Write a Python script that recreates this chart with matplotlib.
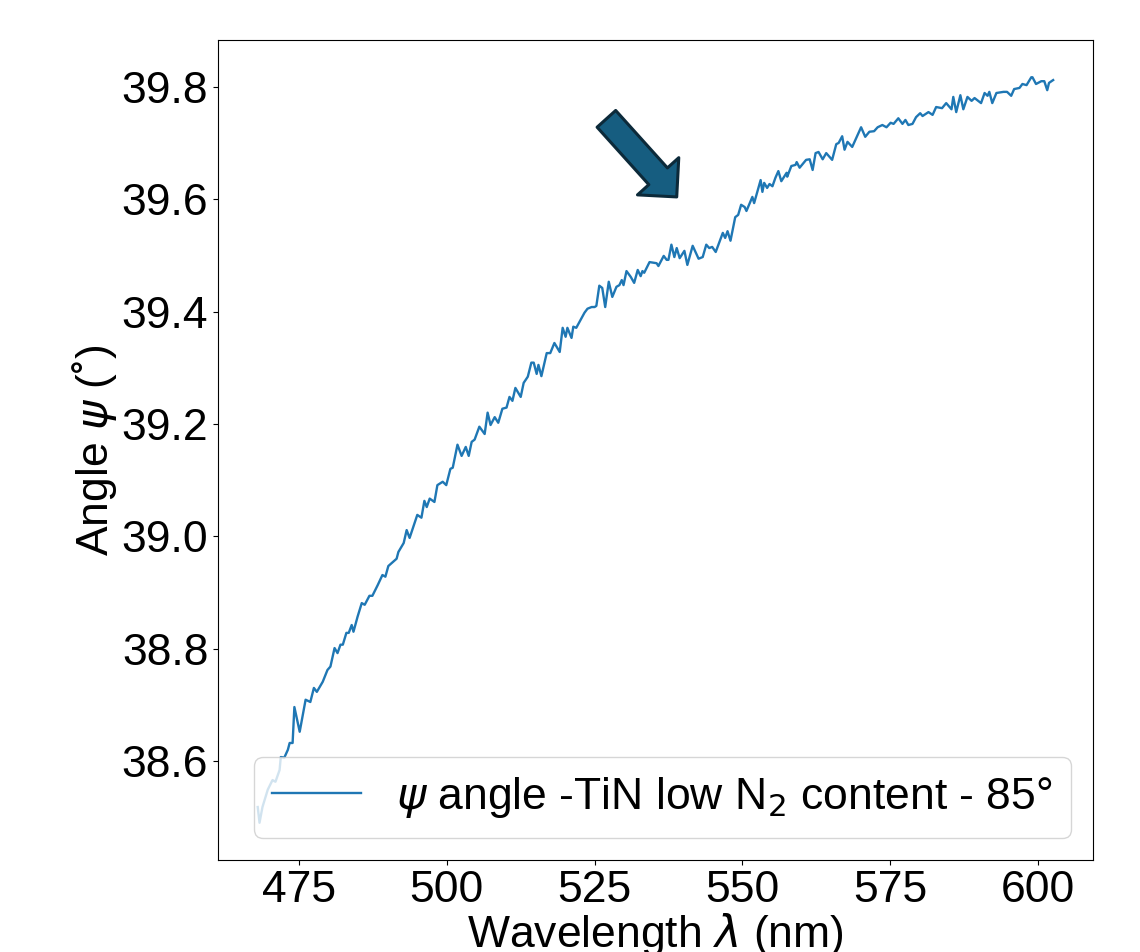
import matplotlib
matplotlib.use("Agg")
import matplotlib.pyplot as plt

plt.rcParams['font.family'] = ['Liberation Sans', 'DejaVu Sans']
plt.rcParams['mathtext.fontset'] = 'dejavusans'

wavelength = [
    468.0, 468.3, 468.8, 469.7, 470.5, 471.0, 471.7, 471.9, 472.5, 473.1,
    473.4, 473.9, 474.2, 475.1, 476.1, 476.9, 477.5, 478.0, 479.0, 479.8,
    480.3, 481.0, 481.5, 482.0, 482.4, 483.0, 483.4, 483.9, 484.2, 484.9,
    485.6, 486.1, 486.9, 487.4, 488.3, 489.1, 489.6, 490.1, 491.5, 491.8,
    492.7, 493.2, 493.7, 495.0, 495.7, 496.2, 496.6, 497.1, 497.9, 498.4,
    499.3, 499.9, 500.6, 501.0, 501.8, 502.5, 503.2, 503.7, 504.2, 504.7,
    505.5, 506.4, 506.9, 507.4, 508.1, 508.7, 509.4, 510.1, 510.6, 511.1,
    511.6, 512.5, 513.0, 513.7, 514.3, 514.7, 515.2, 515.5, 516.0, 516.9,
    517.5, 518.2, 519.1, 519.6, 520.1, 520.4, 521.1, 521.4, 521.9, 523.3,
    523.8, 524.5, 525.0, 525.3, 525.8, 526.3, 526.8, 527.4, 528.0, 528.7,
    529.2, 529.6, 529.9, 530.4, 531.1, 531.7, 532.3, 532.8, 533.1, 533.4,
    534.3, 535.5, 535.8, 536.7, 537.2, 537.5, 538.0, 538.5, 538.9, 539.4,
    540.2, 540.7, 541.6, 542.6, 543.3, 543.9, 544.4, 544.9, 545.5, 546.7,
    547.1, 547.5, 548.0, 548.8, 549.3, 549.8, 550.4, 550.7, 551.7, 552.0,
    553.1, 553.4, 553.7, 554.2, 554.6, 555.1, 555.6, 556.1, 556.6, 557.5,
    557.6, 558.3, 559.0, 559.2, 559.7, 560.5, 560.8, 561.4, 561.9, 562.4,
    562.9, 563.6, 564.2, 565.2, 565.9, 566.3, 566.9, 567.3, 567.8, 568.6,
    570.1, 570.8, 571.5, 572.3, 572.9, 573.7, 574.4, 575.1, 575.6, 576.4,
    577.1, 577.6, 578.1, 578.8, 579.4, 580.1, 580.5, 581.5, 582.2, 582.8,
    583.8, 584.5, 585.4, 585.7, 586.2, 586.9, 587.4, 588.1, 588.8, 589.3,
    590.4, 591.0, 591.5, 591.8, 592.3, 593.0, 594.2, 594.8, 595.5, 596.0,
    596.9, 597.4, 598.1, 598.9, 599.1, 599.7, 600.6, 601.1, 601.6, 601.9,
    602.6,
]

psi = [
    38.518, 38.490, 38.518, 38.549, 38.566, 38.563, 38.584, 38.607, 38.606, 38.620,
    38.632, 38.632, 38.696, 38.652, 38.709, 38.705, 38.730, 38.723, 38.741, 38.762,
    38.768, 38.801, 38.792, 38.807, 38.807, 38.828, 38.828, 38.842, 38.830, 38.857,
    38.881, 38.878, 38.894, 38.894, 38.913, 38.931, 38.928, 38.947, 38.960, 38.972,
    38.988, 39.011, 38.997, 39.038, 39.033, 39.063, 39.052, 39.067, 39.061, 39.091,
    39.097, 39.091, 39.120, 39.122, 39.163, 39.143, 39.159, 39.143, 39.168, 39.172,
    39.195, 39.182, 39.220, 39.198, 39.212, 39.202, 39.227, 39.229, 39.248, 39.241,
    39.264, 39.248, 39.273, 39.284, 39.309, 39.309, 39.289, 39.305, 39.285, 39.326,
    39.326, 39.344, 39.328, 39.371, 39.355, 39.371, 39.353, 39.373, 39.371, 39.398,
    39.405, 39.408, 39.408, 39.410, 39.446, 39.442, 39.408, 39.453, 39.426, 39.444,
    39.447, 39.456, 39.447, 39.472, 39.462, 39.451, 39.474, 39.463, 39.472, 39.469,
    39.488, 39.486, 39.481, 39.499, 39.492, 39.492, 39.519, 39.497, 39.513, 39.495,
    39.508, 39.483, 39.517, 39.494, 39.497, 39.519, 39.513, 39.515, 39.506, 39.540,
    39.531, 39.543, 39.526, 39.568, 39.572, 39.590, 39.586, 39.579, 39.604, 39.593,
    39.634, 39.613, 39.629, 39.620, 39.627, 39.623, 39.638, 39.650, 39.632, 39.647,
    39.640, 39.659, 39.661, 39.666, 39.656, 39.666, 39.670, 39.671, 39.652, 39.682,
    39.684, 39.671, 39.682, 39.670, 39.698, 39.700, 39.712, 39.688, 39.702, 39.693,
    39.728, 39.711, 39.720, 39.721, 39.728, 39.732, 39.728, 39.736, 39.734, 39.744,
    39.734, 39.741, 39.732, 39.734, 39.746, 39.753, 39.748, 39.755, 39.750, 39.764,
    39.762, 39.771, 39.760, 39.782, 39.755, 39.785, 39.760, 39.782, 39.775, 39.780,
    39.771, 39.789, 39.784, 39.791, 39.771, 39.789, 39.791, 39.791, 39.784, 39.796,
    39.798, 39.805, 39.803, 39.817, 39.817, 39.805, 39.810, 39.810, 39.794, 39.807,
    39.812,
]

series_label = r"$\psi$ angle -TiN low N$_2$ content - 85°"
x_label = r"Wavelength $\lambda$ (nm)"
y_label = r"Angle $\psi$ (˚)"

arrow_tail = (527.0, 39.743)
arrow_tip = (538.9, 39.604)

fig = plt.figure(figsize=(11.4, 9.52), dpi=100)
ax = fig.add_axes([0.1912, 0.0966, 0.7675, 0.8614])

ax.plot(wavelength, psi, color='#1f77b4', lw=1.7, label=series_label)

ax.annotate('', xy=arrow_tip, xytext=arrow_tail, xycoords='data',
            arrowprops=dict(arrowstyle='simple,head_length=20,head_width=40,tail_width=18',
                            mutation_scale=1, shrinkA=0, shrinkB=0,
                            facecolor='#165d80', edgecolor='#0c2a3a', lw=2.2))

ax.set_xlabel(x_label, fontsize=32, labelpad=0)
ax.set_ylabel(y_label, fontsize=32, labelpad=2)
ax.tick_params(labelsize=32)
ax.legend(loc='lower right', fontsize=32)

fig.savefig('out.png', dpi=100)
